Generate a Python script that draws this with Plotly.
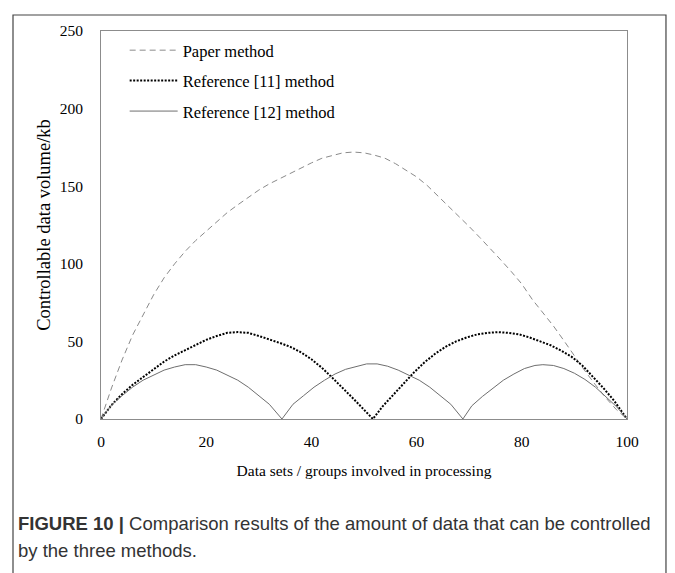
import plotly.graph_objects as go

# ---- data ----
paper_x = [0, 2, 4, 6, 8, 10, 12, 14, 16, 18, 20, 22, 24, 26, 28, 30, 32, 34, 36, 38, 40,
           42, 44, 46, 48, 50, 52, 54, 56, 58, 60, 62, 64, 66, 68, 70, 72, 74, 76, 78, 80,
           82, 84, 86, 88, 90, 92, 94, 96, 98, 100]
paper_y = [0, 20, 38, 54, 67, 80, 91, 100, 108, 115, 121, 127, 133, 138, 143, 147.5, 151.5,
           155, 158.5, 161.5, 165, 168, 170, 171.5, 172, 171.5, 170, 168, 164.5, 160.5, 156,
           150.5, 144, 137.5, 131, 124, 117, 110, 102.5, 95, 87, 77, 68.5, 60, 50.5, 40.5,
           31, 22, 13.5, 6, 0]

ref11_x = [0, 2, 4, 6, 8, 10, 12, 14, 16, 18, 20, 22, 24, 26, 28, 30, 32, 34, 36, 38, 40,
           42, 44, 46, 48, 50, 51.7, 53.5, 55.5, 57.5, 59.5, 61.5, 63.5, 65.5, 67.5, 69.5,
           71.5, 73.5, 75.5, 77.5, 79.5, 81.5, 83.5, 85.5, 87.5, 89.5, 91.5, 93.5, 95.5,
           97.5, 100]
ref11_y = [0, 9, 16, 22, 27, 32, 37, 41, 44.5, 48, 51, 53.5, 55.5, 56, 55.5, 53.5, 51.5, 49,
           46.5, 43, 38.5, 33, 26.5, 20, 13, 6, 0, 8, 15.5, 23, 30, 36.5, 42, 46.5, 50, 52.5,
           54.5, 55.5, 56, 55.5, 54.5, 52.5, 50, 47.5, 44, 40, 34.5, 27.5, 20, 12, 0]

ref12_x = [0, 2, 4, 6, 8, 10, 12, 14, 16, 18, 20, 22, 24, 26, 28, 30, 32, 34.4,
           36.5, 38.5, 40.5, 42.5, 44.5, 46.5, 48.5, 50.5, 52.5, 54.5, 56.5, 58.5, 60.5,
           62.5, 64.5, 66.5, 68.8, 70.5, 72.5, 74.5, 76.5, 78.5, 80.5, 82.5, 84, 86, 88,
           90, 92, 94, 96, 98, 100]
ref12_y = [0, 9, 15, 20.5, 25, 28.5, 31.5, 33.5, 35, 35, 33.5, 31.5, 28.5, 25, 20.5, 15, 9.5, 0,
           9.5, 15, 20.5, 25, 29, 32, 34, 35.5, 35.5, 34, 31.5, 28.5, 25, 20.5, 15, 9.5, 0,
           8.5, 14.5, 20, 25, 29, 32.5, 34.5, 35, 34.5, 32.5, 29.5, 25.5, 20.5, 14.5, 8, 0]

series_names = ["Paper method", "Reference [11] method", "Reference [12] method"]
x_ticks = [0, 20, 40, 60, 80, 100]
y_ticks = [0, 50, 100, 150, 200, 250]

SERIF = "Liberation Serif, Times New Roman, serif"
SANS = "Liberation Sans, Arial, sans-serif"

fig = go.Figure()
fig.add_trace(go.Scatter(x=paper_x, y=paper_y, mode="lines", name=series_names[0],
                         legendgroup="a",
                         line=dict(color="#8a8a8a", width=1, dash="6px,4px")))
fig.add_trace(go.Scatter(x=ref11_x, y=ref11_y, mode="lines", name=series_names[1],
                         legendgroup="b",
                         line=dict(color="#000000", width=2, dash="2px,1.5px")))
fig.add_trace(go.Scatter(x=ref12_x, y=ref12_y, mode="lines", name=series_names[2],
                         legendgroup="c",
                         line=dict(color="#6e6e6e", width=1)))

# the page body adds an 8px margin, so the figure is 8px smaller on each axis
fig.update_layout(
    width=667, height=565,
    margin=dict(l=93, r=48, t=23, b=154),
    paper_bgcolor="white", plot_bgcolor="white",
    font=dict(family=SERIF, size=15.5, color="black"),
    showlegend=True,
    legend=dict(x=0.045, y=0.995, xanchor="left", yanchor="top",
                bgcolor="rgba(0,0,0,0)", font=dict(family=SERIF, size=16.5),
                tracegroupgap=6, itemwidth=48),
    xaxis=dict(range=[0, 100], tickvals=x_ticks, showgrid=False, zeroline=False,
               showline=True, linecolor="#8c8c8c", linewidth=1, mirror=True,
               ticks="", ticklabelstandoff=8,
               title=dict(text="Data sets / groups involved in processing",
                          font=dict(family=SERIF, size=15.5), standoff=16)),
    yaxis=dict(range=[0, 250], tickvals=y_ticks, showgrid=False, zeroline=False,
               showline=True, linecolor="#8c8c8c", linewidth=1, mirror=True,
               ticks="", ticklabelstandoff=14,
               title=dict(text="Controllable data volume/kb",
                          font=dict(family=SERIF, size=18.5), standoff=4)),
)

# outer figure frame
fig.add_shape(type="rect", xref="paper", yref="paper",
              x0=-0.1673, x1=1.0741, y0=-0.45, y1=1.0412,
              line=dict(color="#444444", width=1.2), fillcolor="rgba(0,0,0,0)", layer="below")

# caption
fig.add_annotation(xref="paper", yref="paper", x=-0.161, y=(419 - 523) / 388,
                   xanchor="left", yanchor="middle", showarrow=False, align="left",
                   text="<b>FIGURE 10 |</b> Comparison results of the amount of data that can be controlled",
                   font=dict(family=SANS, size=18.5, color="#333333"))
fig.add_annotation(xref="paper", yref="paper", x=-0.161, y=(419 - 550) / 388,
                   xanchor="left", yanchor="middle", showarrow=False, align="left",
                   text="by the three methods.",
                   font=dict(family=SANS, size=18.5, color="#333333"))

fig.write_html("out.html")
